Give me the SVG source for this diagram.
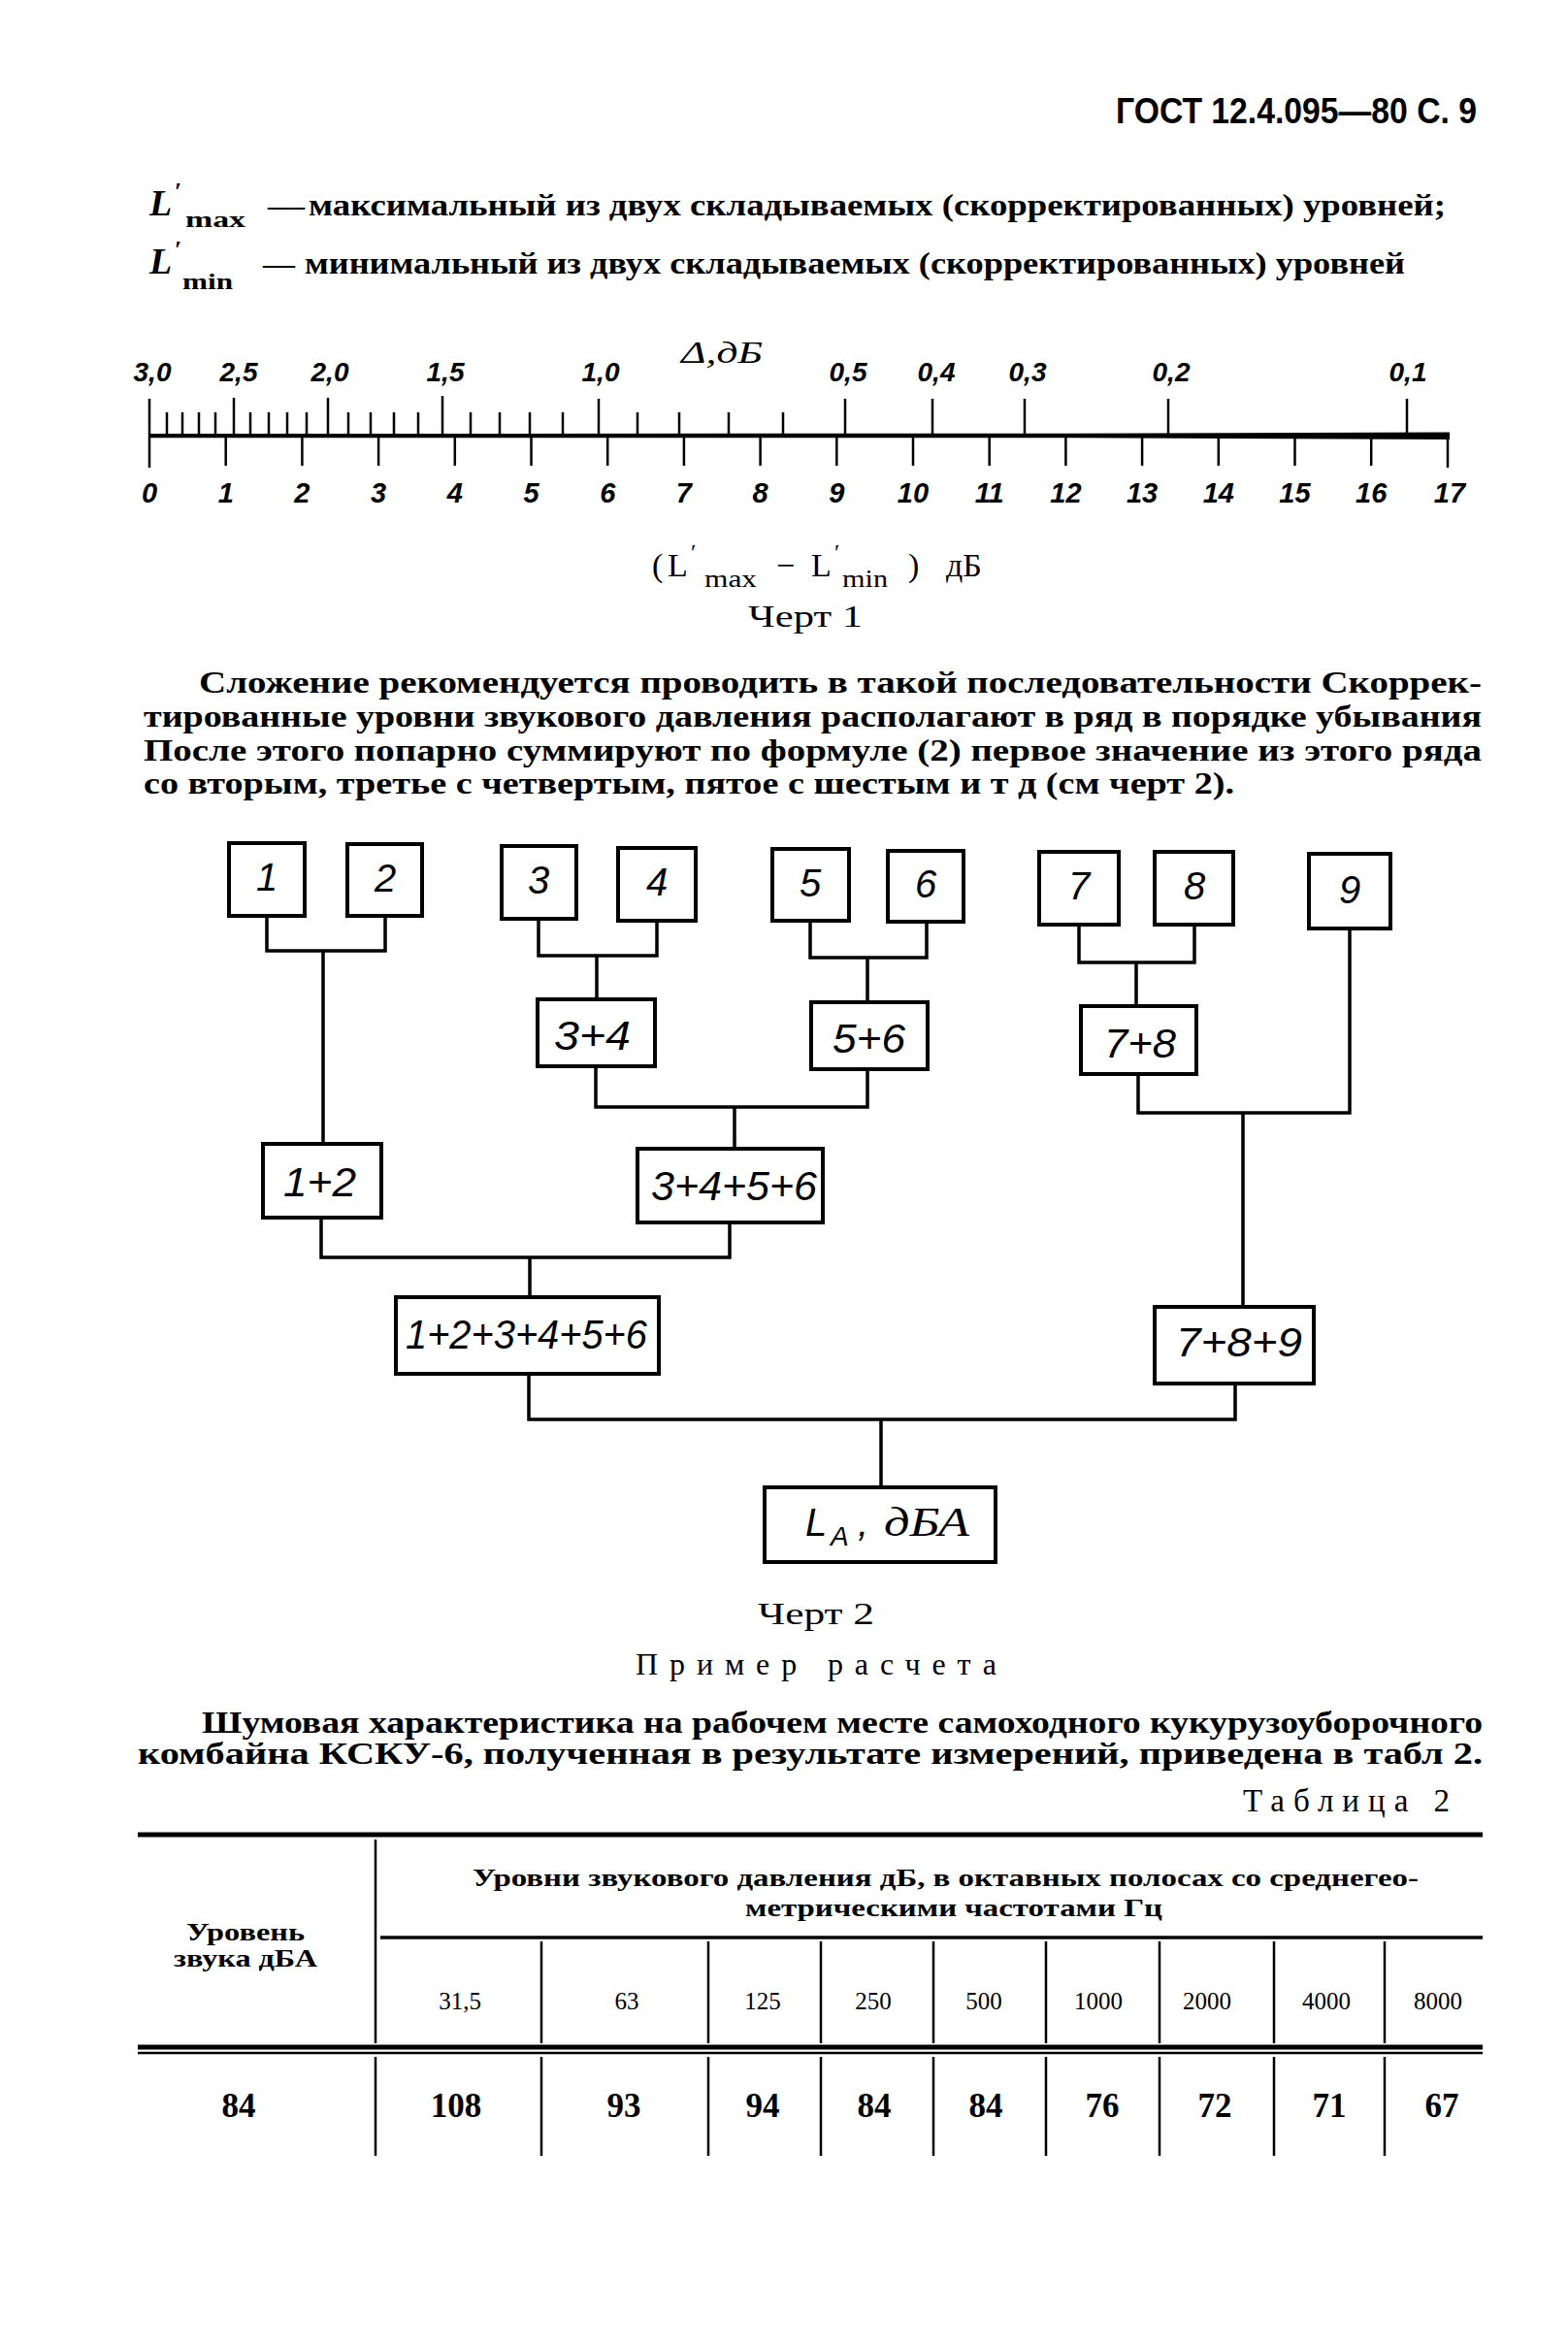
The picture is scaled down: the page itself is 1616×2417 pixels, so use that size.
<svg xmlns="http://www.w3.org/2000/svg" width="1616" height="2417" viewBox="0 0 1616 2417">
<style>
.t{font-family:"Liberation Serif","DejaVu Serif",serif;font-weight:bold;fill:#000}
.r{font-family:"Liberation Serif","DejaVu Serif",serif;fill:#000}
.s{font-family:"Liberation Sans","DejaVu Sans",sans-serif;font-style:italic;fill:#000}
.si{font-family:"Liberation Serif","DejaVu Serif",serif;font-style:italic;fill:#000}
.box{fill:#fff;stroke:#000;stroke-width:4}
.conn{fill:none;stroke:#000;stroke-width:3.5}
.tk{stroke:#000;stroke-width:2.5}
.rule{stroke:#000}
</style>
<rect width="1616" height="2417" fill="#fff"/>

<!-- page header -->
<text x="1150" y="127" font-family="Liberation Sans, DejaVu Sans, sans-serif" font-weight="bold" font-size="36" textLength="372" lengthAdjust="spacingAndGlyphs">ГОСТ 12.4.095—80 С. 9</text>

<!-- definitions -->
<g id="def-max">
<text class="t" x="154" y="222" font-size="38" font-style="italic">L</text>
<text class="t" x="180" y="206" font-size="26">′</text>
<text class="t" x="191" y="234" font-size="24" textLength="62" lengthAdjust="spacingAndGlyphs">max</text>
<text class="t" x="276" y="222" font-size="30" textLength="38" lengthAdjust="spacingAndGlyphs">—</text>
<text class="t" x="318" y="222" font-size="31" textLength="1172" lengthAdjust="spacingAndGlyphs">максимальный из двух складываемых (скорректированных) уровней;</text>
</g>
<g id="def-min">
<text class="t" x="154" y="282" font-size="38" font-style="italic">L</text>
<text class="t" x="180" y="266" font-size="26">′</text>
<text class="t" x="188" y="298" font-size="24" textLength="52" lengthAdjust="spacingAndGlyphs">min</text>
<text class="t" x="271" y="282" font-size="30" textLength="33" lengthAdjust="spacingAndGlyphs">—</text>
<text class="t" x="314" y="282" font-size="31" textLength="1134" lengthAdjust="spacingAndGlyphs">минимальный из двух складываемых (скорректированных) уровней</text>
</g>

<!-- Chart 1: scale -->
<g id="scale">
<text class="si" x="702" y="374" font-size="32" textLength="84" lengthAdjust="spacingAndGlyphs">Δ,дБ</text>
<polygon points="154,447 1100,446.8 1494,445.5 1494,453 1100,451.3 154,451.3" fill="#000"/>
<!-- major top ticks -->
<g class="tk">
<line x1="154" y1="411" x2="154" y2="482"/>
<line x1="241" y1="410" x2="241" y2="449"/>
<line x1="338" y1="410" x2="338" y2="449"/>
<line x1="456" y1="408" x2="456" y2="449"/>
<line x1="617" y1="411" x2="617" y2="449"/>
<line x1="871" y1="411" x2="871" y2="449"/>
<line x1="961" y1="411" x2="961" y2="449"/>
<line x1="1056" y1="411" x2="1056" y2="449"/>
<line x1="1204" y1="411" x2="1204" y2="449"/>
<line x1="1450" y1="411" x2="1450" y2="449"/>
</g>
<!-- minor top ticks -->
<g class="tk">
<line x1="172" y1="425" x2="172" y2="449"/>
<line x1="188" y1="425" x2="188" y2="449"/>
<line x1="205" y1="425" x2="205" y2="449"/>
<line x1="222" y1="425" x2="222" y2="449"/>
<line x1="258" y1="425" x2="258" y2="449"/>
<line x1="277" y1="425" x2="277" y2="449"/>
<line x1="296" y1="425" x2="296" y2="449"/>
<line x1="316" y1="425" x2="316" y2="449"/>
<line x1="359" y1="425" x2="359" y2="449"/>
<line x1="382" y1="425" x2="382" y2="449"/>
<line x1="406" y1="425" x2="406" y2="449"/>
<line x1="431" y1="425" x2="431" y2="449"/>
<line x1="485" y1="425" x2="485" y2="449"/>
<line x1="515" y1="425" x2="515" y2="449"/>
<line x1="546" y1="425" x2="546" y2="449"/>
<line x1="580" y1="425" x2="580" y2="449"/>
<line x1="657" y1="425" x2="657" y2="449"/>
<line x1="700" y1="425" x2="700" y2="449"/>
<line x1="751" y1="425" x2="751" y2="449"/>
<line x1="807" y1="425" x2="807" y2="449"/>
</g>
<!-- bottom ticks -->
<g class="tk">
<line x1="232.7" y1="449" x2="232.7" y2="480"/>
<line x1="311.4" y1="449" x2="311.4" y2="480"/>
<line x1="390.1" y1="449" x2="390.1" y2="480"/>
<line x1="468.8" y1="449" x2="468.8" y2="480"/>
<line x1="547.5" y1="449" x2="547.5" y2="480"/>
<line x1="626.2" y1="449" x2="626.2" y2="480"/>
<line x1="704.9" y1="449" x2="704.9" y2="480"/>
<line x1="783.6" y1="449" x2="783.6" y2="480"/>
<line x1="862.3" y1="449" x2="862.3" y2="480"/>
<line x1="941" y1="449" x2="941" y2="480"/>
<line x1="1019.7" y1="449" x2="1019.7" y2="480"/>
<line x1="1098.4" y1="449" x2="1098.4" y2="480"/>
<line x1="1177.1" y1="449" x2="1177.1" y2="480"/>
<line x1="1255.8" y1="449" x2="1255.8" y2="480"/>
<line x1="1334.5" y1="449" x2="1334.5" y2="480"/>
<line x1="1413.2" y1="449" x2="1413.2" y2="480"/>
<line x1="1492" y1="447" x2="1492" y2="482"/>
</g>
<!-- top labels -->
<g class="s" font-size="28" font-weight="bold" text-anchor="middle">
<text x="157" y="393">3,0</text>
<text x="246" y="393">2,5</text>
<text x="340" y="393">2,0</text>
<text x="459" y="393">1,5</text>
<text x="619" y="393">1,0</text>
<text x="874" y="393">0,5</text>
<text x="965" y="393">0,4</text>
<text x="1059" y="393">0,3</text>
<text x="1207" y="393">0,2</text>
<text x="1451" y="393">0,1</text>
</g>
<!-- bottom labels -->
<g class="s" font-size="29" font-weight="bold" text-anchor="middle">
<text x="154" y="518">0</text>
<text x="232.7" y="518">1</text>
<text x="311.4" y="518">2</text>
<text x="390.1" y="518">3</text>
<text x="468.8" y="518">4</text>
<text x="547.5" y="518">5</text>
<text x="626.2" y="518">6</text>
<text x="704.9" y="518">7</text>
<text x="783.6" y="518">8</text>
<text x="862.3" y="518">9</text>
<text x="941" y="518">10</text>
<text x="1019.7" y="518">11</text>
<text x="1098.4" y="518">12</text>
<text x="1177.1" y="518">13</text>
<text x="1255.8" y="518">14</text>
<text x="1334.5" y="518">15</text>
<text x="1413.2" y="518">16</text>
<text x="1494" y="518">17</text>
</g>
<!-- axis caption -->
<g id="caption1" class="r">
<text x="672" y="594" font-size="34">(</text>
<text x="688" y="594" font-size="34">L</text>
<text x="712" y="577" font-size="24">′</text>
<text x="726" y="605" font-size="25" textLength="54" lengthAdjust="spacingAndGlyphs">max</text>
<text x="800" y="594" font-size="34">−</text>
<text x="836" y="594" font-size="34">L</text>
<text x="860" y="577" font-size="24">′</text>
<text x="868" y="605" font-size="25" textLength="47" lengthAdjust="spacingAndGlyphs">min</text>
<text x="936" y="594" font-size="34">)</text>
<text x="975" y="594" font-size="34">дБ</text>
</g>
<text class="r" x="771" y="646" font-size="31" textLength="118" lengthAdjust="spacingAndGlyphs">Черт 1</text>
</g>

<!-- paragraph -->
<g id="para1" class="t" font-size="31">
<text x="205" y="714" textLength="1322" lengthAdjust="spacingAndGlyphs">Сложение рекомендуется проводить в такой последовательности  Скоррек-</text>
<text x="148" y="749" textLength="1379" lengthAdjust="spacingAndGlyphs">тированные уровни звукового давления располагают в ряд в порядке убывания</text>
<text x="148" y="784" textLength="1379" lengthAdjust="spacingAndGlyphs">После этого попарно суммируют по формуле (2) первое значение из этого ряда</text>
<text x="148" y="818" textLength="1124" lengthAdjust="spacingAndGlyphs">со вторым, третье с четвертым, пятое с шестым и т д (см черт 2).</text>
</g>

<!-- Chart 2 -->
<g id="connectors">
<path class="conn" d="M275,944 V980 H397 V944 M333,980 V1179"/>
<path class="conn" d="M555,947 V985 H677 V949 M615,985 V1030"/>
<path class="conn" d="M835,949 V987 H955 V950 M894,987 V1033"/>
<path class="conn" d="M1112,953 V992 H1231 V953 M1171,992 V1037"/>
<path class="conn" d="M614,1099 V1141 H894 V1102 M757,1141 V1184"/>
<path class="conn" d="M1173,1107 V1147 H1391 V957 M1281,1147 V1347"/>
<path class="conn" d="M331,1255 V1296 H752 V1260 M546,1296 V1337"/>
<path class="conn" d="M545,1416 V1463 H1273 V1426 M908,1463 V1533"/>
</g>

<g id="n1"><rect class="box" x="236" y="869" width="78" height="75"/><text class="s" x="275" y="918" font-size="40" text-anchor="middle">1</text></g>
<g id="n2"><rect class="box" x="358" y="870" width="77" height="74"/><text class="s" x="397" y="919" font-size="40" text-anchor="middle">2</text></g>
<g id="n3"><rect class="box" x="517" y="872" width="77" height="75"/><text class="s" x="555" y="921" font-size="40" text-anchor="middle">3</text></g>
<g id="n4"><rect class="box" x="637" y="874" width="80" height="75"/><text class="s" x="677" y="923" font-size="40" text-anchor="middle">4</text></g>
<g id="n5"><rect class="box" x="796" y="875" width="79" height="74"/><text class="s" x="835" y="924" font-size="40" text-anchor="middle">5</text></g>
<g id="n6"><rect class="box" x="915" y="877" width="78" height="73"/><text class="s" x="954" y="925" font-size="40" text-anchor="middle">6</text></g>
<g id="n7"><rect class="box" x="1071" y="878" width="82" height="75"/><text class="s" x="1112" y="927" font-size="40" text-anchor="middle">7</text></g>
<g id="n8"><rect class="box" x="1190" y="878" width="81" height="75"/><text class="s" x="1231" y="927" font-size="40" text-anchor="middle">8</text></g>
<g id="n9"><rect class="box" x="1349" y="880" width="84" height="77"/><text class="s" x="1391" y="931" font-size="40" text-anchor="middle">9</text></g>

<g id="n34"><rect class="box" x="554" y="1030" width="121" height="69"/><text class="s" x="571" y="1082" font-size="42" textLength="79" lengthAdjust="spacingAndGlyphs">3+4</text></g>
<g id="n56"><rect class="box" x="836" y="1033" width="120" height="69"/><text class="s" x="858" y="1085" font-size="42" textLength="75" lengthAdjust="spacingAndGlyphs">5+6</text></g>
<g id="n78"><rect class="box" x="1114" y="1037" width="119" height="70"/><text class="s" x="1138" y="1090" font-size="42" textLength="74" lengthAdjust="spacingAndGlyphs">7+8</text></g>
<g id="n12"><rect class="box" x="271" y="1179" width="122" height="76"/><text class="s" x="292" y="1233" font-size="42" textLength="75" lengthAdjust="spacingAndGlyphs">1+2</text></g>
<g id="n3456"><rect class="box" x="657" y="1184" width="191" height="76"/><text class="s" x="671" y="1237" font-size="42" textLength="171" lengthAdjust="spacingAndGlyphs">3+4+5+6</text></g>
<g id="n123456"><rect class="box" x="408" y="1337" width="271" height="79"/><text class="s" x="418" y="1390" font-size="42" textLength="249" lengthAdjust="spacingAndGlyphs">1+2+3+4+5+6</text></g>
<g id="n789"><rect class="box" x="1190" y="1347" width="164" height="79"/><text class="s" x="1212" y="1398" font-size="42" textLength="130" lengthAdjust="spacingAndGlyphs">7+8+9</text></g>
<g id="nLA"><rect class="box" x="788" y="1533" width="238" height="77"/>
<text class="s" x="830" y="1583" font-size="40">L</text>
<text class="s" x="856" y="1593" font-size="28">A</text>
<text class="s" x="884" y="1583" font-size="40">,</text>
<text class="si" x="911" y="1583" font-size="42" textLength="88" lengthAdjust="spacingAndGlyphs">дБА</text>
</g>

<text class="r" x="781" y="1674" font-size="31" textLength="120" lengthAdjust="spacingAndGlyphs">Черт 2</text>
<text class="r" x="655" y="1726" font-size="32" textLength="372" lengthAdjust="spacing">Пример расчета</text>

<g id="para2" class="t" font-size="31">
<text x="208" y="1786" textLength="1320" lengthAdjust="spacingAndGlyphs">Шумовая характеристика на рабочем месте самоходного кукурузоуборочного</text>
<text x="142" y="1818" textLength="1386" lengthAdjust="spacingAndGlyphs">комбайна КСКУ-6, полученная в результате измерений, приведена в табл 2.</text>
</g>
<text class="r" x="1281" y="1867" font-size="33" textLength="213" lengthAdjust="spacing">Таблица 2</text>

<!-- Table 2 -->
<g id="table">
<line class="rule" x1="142" y1="1891" x2="1528" y2="1891" stroke-width="5"/>
<line class="rule" x1="387" y1="1896" x2="387" y2="2106" stroke-width="2.5"/>
<line class="rule" x1="392" y1="1997" x2="1528" y2="1997" stroke-width="3.5"/>
<line class="rule" x1="142" y1="2110" x2="1528" y2="2110" stroke-width="5"/>
<line class="rule" x1="142" y1="2116" x2="1528" y2="2116" stroke-width="2.5"/>
<g class="rule" stroke-width="2.5">
<line x1="558" y1="2001" x2="558" y2="2106"/>
<line x1="730" y1="2001" x2="730" y2="2106"/>
<line x1="846" y1="2001" x2="846" y2="2106"/>
<line x1="962" y1="2001" x2="962" y2="2106"/>
<line x1="1078" y1="2001" x2="1078" y2="2106"/>
<line x1="1195" y1="2001" x2="1195" y2="2106"/>
<line x1="1313" y1="2001" x2="1313" y2="2106"/>
<line x1="1427" y1="2001" x2="1427" y2="2106"/>
<line x1="387" y1="2120" x2="387" y2="2222"/>
<line x1="558" y1="2120" x2="558" y2="2222"/>
<line x1="730" y1="2120" x2="730" y2="2222"/>
<line x1="846" y1="2120" x2="846" y2="2222"/>
<line x1="962" y1="2120" x2="962" y2="2222"/>
<line x1="1078" y1="2120" x2="1078" y2="2222"/>
<line x1="1195" y1="2120" x2="1195" y2="2222"/>
<line x1="1313" y1="2120" x2="1313" y2="2222"/>
<line x1="1427" y1="2120" x2="1427" y2="2222"/>
</g>
<text class="t" x="487" y="1944" font-size="25" textLength="975" lengthAdjust="spacingAndGlyphs">Уровни звукового давления дБ, в октавных полосах со среднегео-</text>
<text class="t" x="768" y="1975" font-size="25" textLength="430" lengthAdjust="spacingAndGlyphs">метрическими частотами Гц</text>
<text class="t" x="253" y="2000" font-size="26" text-anchor="middle" textLength="122" lengthAdjust="spacingAndGlyphs">Уровень</text>
<text class="t" x="253" y="2027" font-size="26" text-anchor="middle" textLength="148" lengthAdjust="spacingAndGlyphs">звука дБА</text>
<g class="r" font-size="25" text-anchor="middle">
<text x="474" y="2071">31,5</text>
<text x="646" y="2071">63</text>
<text x="786" y="2071">125</text>
<text x="900" y="2071">250</text>
<text x="1014" y="2071">500</text>
<text x="1132" y="2071">1000</text>
<text x="1244" y="2071">2000</text>
<text x="1367" y="2071">4000</text>
<text x="1482" y="2071">8000</text>
</g>
<g class="t" font-size="35" text-anchor="middle">
<text x="246" y="2182">84</text>
<text x="470" y="2182">108</text>
<text x="643" y="2182">93</text>
<text x="786" y="2182">94</text>
<text x="901" y="2182">84</text>
<text x="1016" y="2182">84</text>
<text x="1136" y="2182">76</text>
<text x="1252" y="2182">72</text>
<text x="1370" y="2182">71</text>
<text x="1486" y="2182">67</text>
</g>
</g>
</svg>
